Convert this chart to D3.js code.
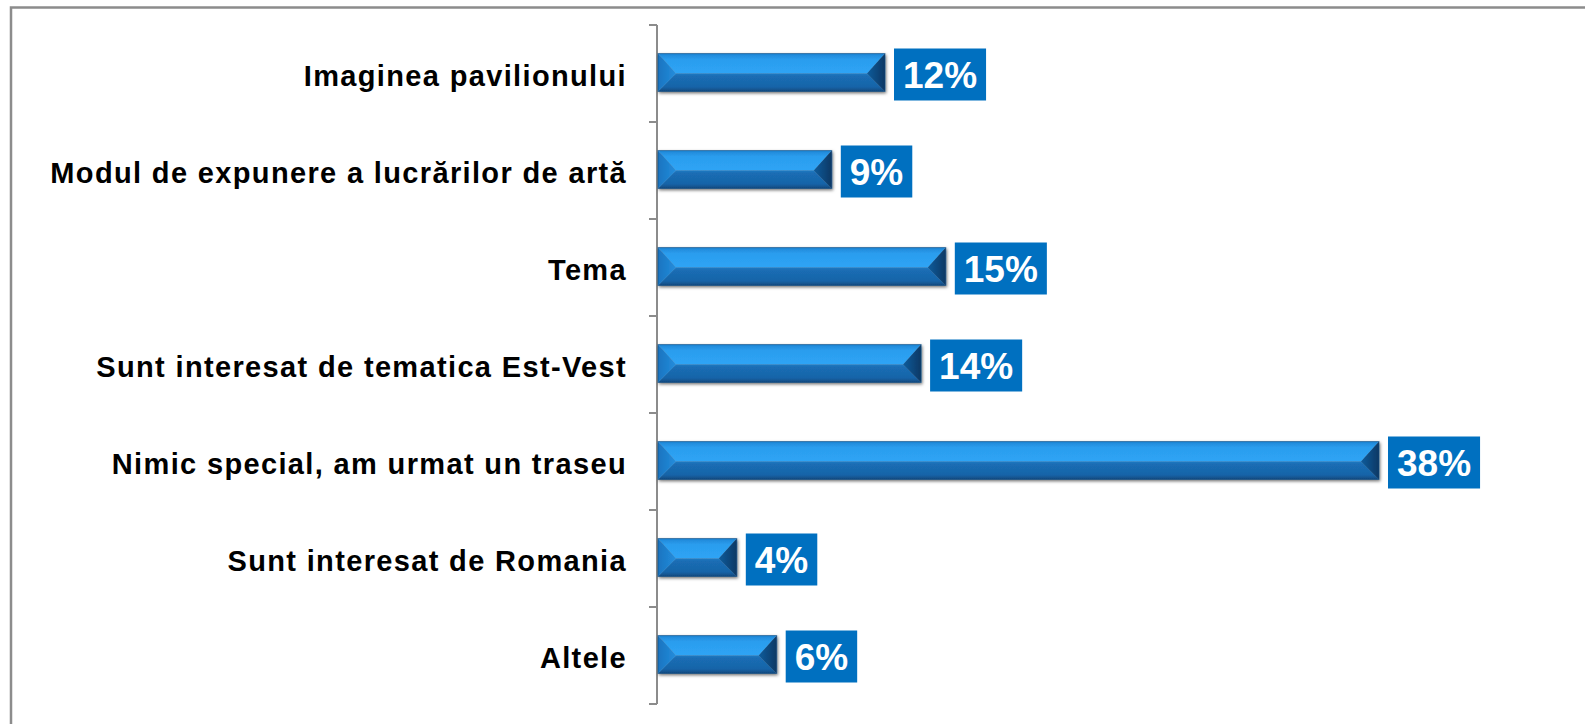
<!DOCTYPE html>
<html>
<head>
<meta charset="utf-8">
<script src="https://cdn.jsdelivr.net/npm/d3@7/dist/d3.min.js"></script>
<style>
  html, body { margin: 0; padding: 0; background: #fff; }
  svg { display: block; }
  .cat { font-family: "Liberation Sans", Arial, Helvetica, sans-serif; font-weight: bold; font-size: 29px; letter-spacing: 1.35px; fill: #000; }
  .val { font-family: "Liberation Sans", Arial, Helvetica, sans-serif; font-weight: bold; font-size: 37px; fill: #fff; }
</style>
</head>
<body>
<div id="chart"></div>
<script>
// categories, top to bottom
var categories = [
  "Imaginea pavilionului",
  "Modul de expunere a lucrărilor de artă",
  "Tema",
  "Sunt interesat de tematica Est-Vest",
  "Nimic special, am urmat un traseu",
  "Sunt interesat de Romania",
  "Altele"
];
// share of answers (%)
var values = [12, 9.2, 15.2, 13.9, 38, 4.2, 6.3];
// the labels printed next to the bars
var valueLabels = ["12%", "9%", "15%", "14%", "38%", "4%", "6%"];

var width = 1585, height = 724;

var svg = d3.select("#chart").append("svg")
    .attr("width", width)
    .attr("height", height);

var defs = svg.append("defs");

var shadow = defs.append("filter")
    .attr("id", "barShadow")
    .attr("x", "-5%").attr("y", "-30%")
    .attr("width", "110%").attr("height", "160%");
shadow.append("feDropShadow")
    .attr("dx", 1).attr("dy", 1.5)
    .attr("stdDeviation", 1.6)
    .attr("flood-color", "#000")
    .attr("flood-opacity", 0.55);

// faces of the bevelled bar
var gTop = defs.append("linearGradient").attr("id", "gTop")
    .attr("x1", 0).attr("y1", 0).attr("x2", 0).attr("y2", 1);
gTop.append("stop").attr("offset", "0%").attr("stop-color", "#1f86d6");
gTop.append("stop").attr("offset", "30%").attr("stop-color", "#2b9dee");
gTop.append("stop").attr("offset", "100%").attr("stop-color", "#2ea4f5");

var gBot = defs.append("linearGradient").attr("id", "gBot")
    .attr("x1", 0).attr("y1", 0).attr("x2", 0).attr("y2", 1);
gBot.append("stop").attr("offset", "0%").attr("stop-color", "#2079c2");
gBot.append("stop").attr("offset", "15%").attr("stop-color", "#1a6db4");
gBot.append("stop").attr("offset", "75%").attr("stop-color", "#1864a8");
gBot.append("stop").attr("offset", "100%").attr("stop-color", "#11497e");

var gRight = defs.append("linearGradient").attr("id", "gRight")
    .attr("x1", 0).attr("y1", 0).attr("x2", 1).attr("y2", 0);
gRight.append("stop").attr("offset", "0%").attr("stop-color", "#125c9c");
gRight.append("stop").attr("offset", "100%").attr("stop-color", "#083864");

var gLeft = defs.append("linearGradient").attr("id", "gLeft")
    .attr("x1", 0).attr("y1", 0).attr("x2", 1).attr("y2", 0);
gLeft.append("stop").attr("offset", "0%").attr("stop-color", "#1a74c0");
gLeft.append("stop").attr("offset", "100%").attr("stop-color", "#238ddc");

// outer frame, open on the right and bottom
svg.append("path")
    .attr("d", "M11,740 L11,7.5 L1600,7.5")
    .attr("fill", "none")
    .attr("stroke", "#8c8c8c")
    .attr("stroke-width", 2.5);

var y = d3.scaleBand()
    .domain(categories)
    .range([25, 704])
    .padding(0);

var x = d3.scaleLinear()
    .domain([0, 40])
    .range([657, 1417]);

var barH = y.bandwidth() * 0.39;
var bevel = 18;

// axis line + ticks between categories
var axis = svg.append("g").attr("class", "axis");
axis.append("line")
    .attr("x1", x(0)).attr("x2", x(0))
    .attr("y1", y.range()[0]).attr("y2", y.range()[1])
    .attr("stroke", "#8c8c8c").attr("stroke-width", 2);
var tickYs = categories.map(function(c) { return y(c); }).concat([y.range()[1]]);
axis.selectAll("line.tick")
    .data(tickYs)
    .enter().append("line")
    .attr("class", "tick")
    .attr("x1", x(0) - 8).attr("x2", x(0))
    .attr("y1", function(d) { return d; })
    .attr("y2", function(d) { return d; })
    .attr("stroke", "#8c8c8c").attr("stroke-width", 2);

// category labels
svg.append("g").selectAll("text")
    .data(categories)
    .enter().append("text")
    .attr("class", "cat")
    .attr("x", 627)
    .attr("y", function(d) { return y(d) + y.bandwidth() / 2 + 2; })
    .attr("dy", "0.35em")
    .attr("text-anchor", "end")
    .text(function(d) { return d; });

// bars
var bars = svg.append("g").selectAll("g.bar")
    .data(values)
    .enter().append("g")
    .attr("class", "bar")
    .attr("filter", "url(#barShadow)");

bars.each(function(v, i) {
  var g = d3.select(this);
  var x0 = x(0) + 1, x1 = x(v);
  var cy = y(categories[i]) + y.bandwidth() / 2 - 1;
  var y0 = cy - barH / 2, y1 = cy + barH / 2, ym = cy + 1;
  var b = Math.min(bevel, (x1 - x0) / 3);
  g.append("polygon")
      .attr("points", [[x0, y0], [x1, y0], [x1 - b, ym], [x0 + b, ym]].join(" "))
      .attr("fill", "url(#gTop)");
  g.append("polygon")
      .attr("points", [[x0 + b, ym], [x1 - b, ym], [x1, y1], [x0, y1]].join(" "))
      .attr("fill", "url(#gBot)");
  g.append("polygon")
      .attr("points", [[x0, y0], [x0 + b, ym], [x0, y1]].join(" "))
      .attr("fill", "url(#gLeft)");
  g.append("polygon")
      .attr("points", [[x1, y0], [x1, y1], [x1 - b, ym]].join(" "))
      .attr("fill", "url(#gRight)");
  g.append("rect")
      .attr("x", x0).attr("y", y0)
      .attr("width", x1 - x0).attr("height", y1 - y0)
      .attr("fill", "none")
      .attr("stroke", "#0f4a80").attr("stroke-width", 1).attr("stroke-opacity", 0.6);
});

// value boxes
var boxH = 52;
var labels = svg.append("g").selectAll("g.lbl")
    .data(values)
    .enter().append("g")
    .attr("class", "lbl");

labels.each(function(v, i) {
  var g = d3.select(this);
  var cy = y(categories[i]) + y.bandwidth() / 2 + 1;
  var t = g.append("text")
      .attr("class", "val")
      .attr("y", cy)
      .attr("dy", "0.36em")
      .text(valueLabels[i]);
  var w = t.node().getComputedTextLength();
  var bx = x(v) + 9;
  g.insert("rect", "text")
      .attr("x", bx).attr("y", cy - boxH / 2)
      .attr("width", w + 18).attr("height", boxH)
      .attr("fill", "#0070c0");
  t.attr("x", bx + 9);
});
</script>
</body>
</html>
